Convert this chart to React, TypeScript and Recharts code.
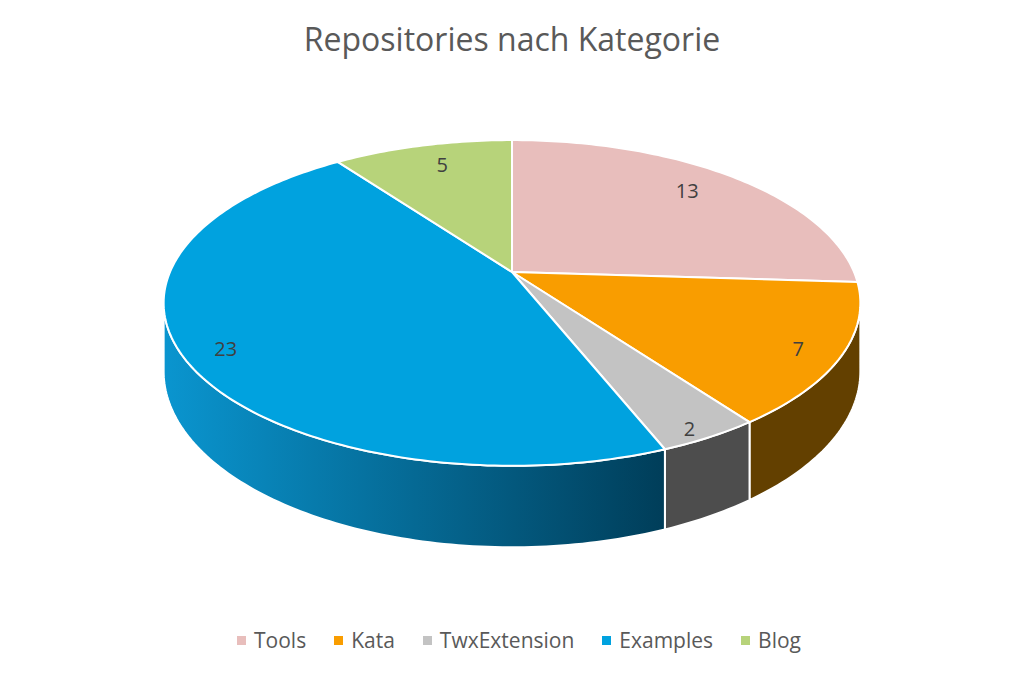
import { Legend, Pie, PieChart } from "recharts";

const categories = ["Tools", "Kata", "TwxExtension", "Examples", "Blog"];
const repoCounts = [13, 7, 2, 23, 5];

const topColors = ["#E8BEBC", "#F99D00", "#C3C3C3", "#00A2DF", "#B7D37A"];
const wallColors = ["#8B6E6D", "#634000", "#4D4D4D", "url(#examplesWall)", "#6E7F49"];

const data = categories.map((name, i) => ({ name, value: repoCounts[i], fill: topColors[i] }));

// fake 3d: the disc is tilted (TILT) and seen in perspective (PERSP)
const TILT = 0.459;
const PERSP = 0.19;
const DEPTH = 66;
const FONT = "'Open Sans', sans-serif";

function project(cx: number, cy: number, r: number, angle: number, f = 1) {
  const a = (angle * Math.PI) / 180;
  const u = Math.cos(a) * f;
  const v = -Math.sin(a) * f;
  const w = 1 - PERSP * v;
  return { x: cx + (r * u) / w, y: cy + (r * TILT * v) / w, w };
}

function arcAngles(from: number, to: number) {
  const steps = Math.max(2, Math.ceil(Math.abs(to - from)));
  const out: number[] = [];
  for (let i = 0; i <= steps; i++) out.push(from + ((to - from) * i) / steps);
  return out;
}

function TopSector(props: any) {
  const { cx, cy, outerRadius, startAngle, endAngle, fill } = props;
  const pts = arcAngles(startAngle, endAngle).map((a) => project(cx, cy, outerRadius, a));
  const d = `M${cx},${cy} ` + pts.map((p) => `L${p.x.toFixed(2)},${p.y.toFixed(2)}`).join(" ") + " Z";
  return <path d={d} fill={fill} stroke="#fff" strokeWidth={2} strokeLinejoin="round" />;
}

function WallSector(props: any) {
  const { cx, cy, outerRadius, startAngle, endAngle, index } = props;
  const edge = (Math.asin(PERSP) * 180) / Math.PI;
  const hi = Math.min(Math.max(startAngle, endAngle), -edge);
  const lo = Math.max(Math.min(startAngle, endAngle), -180 + edge);
  if (hi <= lo) return <g />;
  const top = arcAngles(hi, lo).map((a) => project(cx, cy, outerRadius, a));
  const bottom = top.map((p) => ({ x: p.x, y: p.y + DEPTH / p.w })).reverse();
  const d =
    top.map((p, i) => `${i ? "L" : "M"}${p.x.toFixed(2)},${p.y.toFixed(2)}`).join(" ") +
    " " +
    bottom.map((p) => `L${p.x.toFixed(2)},${p.y.toFixed(2)}`).join(" ") +
    " Z";
  return (
    <g>
      <defs>
        <linearGradient id="examplesWall" gradientUnits="userSpaceOnUse" x1={165} y1={0} x2={662} y2={0}>
          <stop offset="0%" stopColor="#0A95CF" />
          <stop offset="100%" stopColor="#003E5A" />
        </linearGradient>
      </defs>
      <path d={d} fill={wallColors[index]} stroke="#fff" strokeWidth={2} strokeLinejoin="round" />
    </g>
  );
}

function SliceLabel(props: any) {
  const { cx, cy, outerRadius, midAngle, value } = props;
  // near slices get their label pushed further out, like excel does
  const v = -Math.sin((midAngle * Math.PI) / 180);
  const p = project(cx, cy, outerRadius, midAngle, 0.835 + 0.09 * v);
  return (
    <text
      x={p.x}
      y={p.y + 9 * v}
      textAnchor="middle"
      dominantBaseline="central"
      fill="#404040"
      fontSize={20}
      fontFamily={FONT}
    >
      {value}
    </text>
  );
}

function LegendRow() {
  return (
    <div
      style={{
        display: "flex",
        justifyContent: "center",
        gap: 28,
        paddingLeft: 14,
        fontFamily: FONT,
        fontSize: 21,
        color: "#595959",
      }}
    >
      {categories.map((name, i) => (
        <span key={name} style={{ display: "inline-flex", alignItems: "center", gap: 8 }}>
          <span style={{ width: 9, height: 9, background: topColors[i], display: "inline-block" }} />
          {name}
        </span>
      ))}
    </div>
  );
}

export default function App() {
  return (
    <div style={{ position: "absolute", left: 0, top: 0, width: 1024, height: 681, background: "#fff" }}>
      <div
        style={{
          position: "absolute",
          top: 21,
          width: 1024,
          textAlign: "center",
          fontFamily: FONT,
          fontSize: 32,
          lineHeight: "36px",
          color: "#595959",
        }}
      >
        Repositories nach Kategorie
      </div>
      <PieChart width={1024} height={681} margin={{ top: 0, right: 0, bottom: 0, left: 0 }}>
        <Pie
          data={data}
          dataKey="value"
          nameKey="name"
          cx={512}
          cy={272}
          outerRadius={342}
          startAngle={90}
          endAngle={-270}
          legendType="none"
          stroke="none"
          shape={WallSector}
          isAnimationActive={false}
        />
        <Pie
          data={data}
          dataKey="value"
          nameKey="name"
          cx={512}
          cy={272}
          outerRadius={342}
          startAngle={90}
          endAngle={-270}
          legendType="square"
          stroke="none"
          shape={TopSector}
          label={SliceLabel}
          labelLine={false}
          isAnimationActive={false}
        />
        <Legend
          content={LegendRow}
          wrapperStyle={{ position: "absolute", top: 626, left: 0, width: 1024, height: 30 }}
        />
      </PieChart>
    </div>
  );
}
